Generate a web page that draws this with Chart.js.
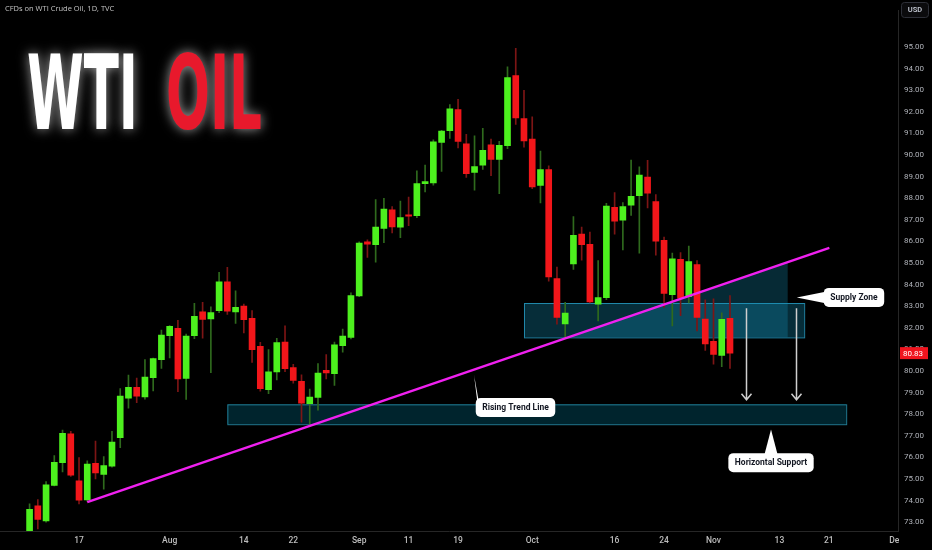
<!DOCTYPE html>
<html>
<head>
<meta charset="utf-8">
<title>WTI Oil</title>
<script src="https://cdn.jsdelivr.net/npm/chart.js@4.4.0/dist/chart.umd.min.js"></script>
<style>
  html, body { margin: 0; padding: 0; background: #000; }
  #wrap { width: 932px; height: 550px; }
</style>
</head>
<body>
<div id="wrap"><canvas id="chart" width="932" height="550"></canvas></div>
<script>
// trading days shown, first one sits 6 bars before Jul 17 (index 0)
const days = ["Jul 7","Jul 10","Jul 11","Jul 12","Jul 13","Jul 14","Jul 17","Jul 18","Jul 19","Jul 20","Jul 21","Jul 24","Jul 25","Jul 26","Jul 27","Jul 28","Jul 31",
  "Aug 1","Aug 2","Aug 3","Aug 4","Aug 7","Aug 8","Aug 9","Aug 10","Aug 11","Aug 14","Aug 15","Aug 16","Aug 17","Aug 18","Aug 21","Aug 22","Aug 23","Aug 24","Aug 25","Aug 28","Aug 29","Aug 30","Aug 31",
  "Sep 1","Sep 4","Sep 5","Sep 6","Sep 7","Sep 8","Sep 11","Sep 12","Sep 13","Sep 14","Sep 15","Sep 18","Sep 19","Sep 20","Sep 21","Sep 22","Sep 25","Sep 26","Sep 27","Sep 28","Sep 29",
  "Oct 2","Oct 3","Oct 4","Oct 5","Oct 6","Oct 9","Oct 10","Oct 11","Oct 12","Oct 13","Oct 16","Oct 17","Oct 18","Oct 19","Oct 20","Oct 23","Oct 24","Oct 25","Oct 26","Oct 27","Oct 30","Oct 31",
  "Nov 1","Nov 2","Nov 3"];
const firstDay = -6;

const opens = [72.2,73.76,73.06,74.71,75.76,77.09,74.92,74.03,75.73,75.21,75.6,76.92,78.75,79.25,78.8,79.7,80.53,
  81.64,81.98,79.66,81.64,82.74,82.41,82.8,84.13,82.74,83.01,82.44,81.15,79.14,79.96,81.34,80.16,79.52,78.49,78.78,80.03,79.88,81.18,81.56,
  83.48,85.98,85.85,86.6,87.46,86.66,87.23,87.19,88.68,88.71,90.59,91.13,92.1,90.52,89.2,89.53,90.47,89.8,90.43,93.68,91.69,
  90.74,88.59,89.33,84.28,82.18,84.96,86.34,85.87,83.1,83.4,87.58,86.99,87.68,88.12,88.98,87.85,86.05,83.54,85.17,83.44,84.93,82.41,
  81.38,80.73,82.44];
const highs = [73.85,74.05,74.88,76.09,77.27,77.21,76.0,75.85,76.76,76.04,77.21,79.19,79.81,79.67,80.53,80.6,81.9,
  82.1,82.35,81.71,83.13,83.18,82.97,84.57,84.8,83.72,83.1,82.8,81.33,80.99,81.52,82.09,80.31,79.82,79.17,80.35,80.76,81.34,81.94,83.62,
  85.98,86.07,87.94,88.0,87.61,87.87,88.06,89.27,89.54,90.71,91.15,92.34,92.58,90.96,90.89,91.24,90.74,90.63,94.08,94.94,93.0,
  91.77,90.18,89.5,84.81,83.18,87.15,86.67,86.43,85.11,87.76,88.26,87.8,89.77,89.45,89.75,88.17,86.2,85.46,85.49,85.79,85.11,83.3,
  83.34,82.7,83.49];
const lows = [71.9,72.69,73.0,74.68,75.33,75.12,73.85,73.97,75.01,74.53,75.55,76.45,78.28,78.54,78.7,79.08,80.12,
  80.61,79.05,78.69,81.5,81.52,79.93,82.7,82.62,82.21,81.77,80.4,79.07,78.95,79.59,79.97,79.44,77.63,77.53,78.19,79.64,79.34,80.88,81.49,
  83.44,85.26,85.04,85.94,86.4,86.17,86.73,87.1,88.29,88.6,89.24,90.77,90.33,88.97,88.38,89.33,89.05,88.21,90.3,91.42,90.37,
  88.44,87.78,84.16,82.17,81.56,84.71,85.13,83.15,82.32,83.3,86.34,85.61,87.2,85.46,87.55,85.37,82.95,82.09,82.57,83.15,81.86,80.95,
  80.32,80.2,80.12];
const closes = [73.6,73.13,74.73,75.77,77.12,75.18,74.02,75.69,75.29,75.62,76.71,78.84,79.25,78.84,79.72,80.58,81.67,
  82.07,79.64,81.62,82.53,82.39,82.71,84.13,82.77,82.95,82.38,80.99,79.19,79.96,81.32,80.11,79.57,78.51,78.8,79.91,79.91,81.21,81.62,83.49,
  85.92,85.88,86.66,87.5,86.67,87.11,87.17,88.68,88.77,90.61,91.11,92.14,90.63,89.14,89.47,90.22,89.8,90.45,93.59,91.72,90.66,
  88.53,89.33,84.36,82.48,82.68,86.28,85.85,83.2,83.4,87.64,86.94,87.61,88.09,89.07,88.24,86.01,83.59,85.19,83.38,85.07,82.48,81.26,
  80.77,82.39,80.83];

const tickDays = [0, 11, 20, 26, 34, 40, 46, 55, 65, 71, 77, 85, 91, 99.2];
const tickNames = ["17", "Aug", "14", "22", "Sep", "11", "19", "Oct", "16", "24", "Nov", "13", "21", "Dec"];
const priceTicks = [73, 74, 75, 76, 77, 78, 79, 80, 81, 82, 83, 84, 85, 86, 87, 88, 89, 90, 91, 92, 93, 94, 95];

// drawings (day index, price)
const trendDays = [1.0, 91.06];
const trendPrices = [73.93, 85.70];
const supplyZone = [54.0, 88.0, 83.15, 81.56];   // from, to, top, bottom
const supportZone = [18.0, 93.1, 78.46, 77.54];
const shadeEnd = 86.0;
const arrowDays = [81.0, 87.0];
const arrowPrices = [82.91, 78.67];
const calloutTexts = ["Supply Zone", "Rising Trend Line", "Horizontal Support"];
const calloutAt = [[94.05, 83.41], [52.97, 78.31], [83.98, 75.76]];
const calloutTips = [[87.1, 83.40], [47.94, 79.82], [83.98, 77.30]];
const lastPrice = 80.83;

const GREEN = "#4df01e", RED = "#f2161a", GREEN_WICK = "#2f6a1d", RED_WICK = "#7d1515";
const up = closes.map((c, i) => c >= opens[i]);
const xOf = i => i + firstDay;

function trendAt(d) {
  return trendPrices[0] + (d - trendDays[0]) * (trendPrices[1] - trendPrices[0]) / (trendDays[1] - trendDays[0]);
}

function rr(ctx, x, y, w, h, r) {
  ctx.beginPath();
  ctx.moveTo(x + r, y);
  ctx.arcTo(x + w, y, x + w, y + h, r);
  ctx.arcTo(x + w, y + h, x, y + h, r);
  ctx.arcTo(x, y + h, x, y, r);
  ctx.arcTo(x, y, x + w, y, r);
  ctx.closePath();
}

const drawings = {
  id: "drawings",
  beforeDatasetsDraw(chart) {
    const { ctx } = chart;
    const px = v => chart.scales.x.getPixelForValue(v);
    const py = v => chart.scales.y.getPixelForValue(v);
    ctx.save();
    // support
    let [a, b, t, btm] = supportZone;
    ctx.fillStyle = "rgba(0,150,190,0.24)";
    ctx.fillRect(px(a), py(t), px(b) - px(a), py(btm) - py(t));
    ctx.strokeStyle = "rgba(40,150,180,0.8)";
    ctx.lineWidth = 1;
    ctx.strokeRect(px(a) + 0.5, py(t) + 0.5, px(b) - px(a), py(btm) - py(t));
    // supply
    [a, b, t, btm] = supplyZone;
    ctx.fillStyle = "rgba(20,150,190,0.3)";
    ctx.fillRect(px(a), py(t), px(b) - px(a), py(btm) - py(t));
    ctx.strokeStyle = "rgba(40,160,200,0.8)";
    ctx.strokeRect(px(a) + 0.5, py(t) + 0.5, px(b) - px(a), py(btm) - py(t));
    // shaded wedge under the trend line
    const startDay = trendDays[0] + (btm - trendPrices[0]) / (trendPrices[1] - trendPrices[0]) * (trendDays[1] - trendDays[0]);
    ctx.fillStyle = "rgba(20,150,190,0.28)";
    ctx.beginPath();
    ctx.moveTo(px(startDay), py(btm));
    ctx.lineTo(px(shadeEnd), py(trendAt(shadeEnd)));
    ctx.lineTo(px(shadeEnd), py(btm));
    ctx.closePath();
    ctx.fill();
    ctx.restore();
  },
  afterDatasetsDraw(chart) {
    const { ctx } = chart;
    const px = v => chart.scales.x.getPixelForValue(v);
    const py = v => chart.scales.y.getPixelForValue(v);
    ctx.save();
    // arrows
    ctx.strokeStyle = "#cfcfcf";
    ctx.lineWidth = 1.5;
    arrowDays.forEach(d => {
      const x = Math.round(px(d)) + 0.5, y0 = py(arrowPrices[0]), y1 = py(arrowPrices[1]);
      ctx.beginPath();
      ctx.moveTo(x, y0); ctx.lineTo(x, y1);
      ctx.moveTo(x - 5, y1 - 6); ctx.lineTo(x, y1); ctx.lineTo(x + 5, y1 - 6);
      ctx.stroke();
    });
    // callouts
    ctx.font = "bold 8.5px Roboto, 'DejaVu Sans', sans-serif";
    ctx.textAlign = "center";
    ctx.textBaseline = "middle";
    calloutTexts.forEach((txt, i) => {
      const cx = px(calloutAt[i][0]), cy = py(calloutAt[i][1]);
      const tx = px(calloutTips[i][0]), ty = py(calloutTips[i][1]);
      const w = ctx.measureText(txt).width + 13, h = 19;
      const bx = cx - w / 2, by = cy - h / 2;
      ctx.fillStyle = "#ffffff";
      rr(ctx, bx, by, w, h, 5);
      ctx.fill();
      ctx.beginPath();
      ctx.moveTo(tx, ty);
      if (tx < bx) {
        ctx.lineTo(bx + 3, cy - 6); ctx.lineTo(bx + 3, cy + 6);
      } else if (tx < bx + 8) {
        ctx.lineTo(bx + 3, by + 3); ctx.lineTo(bx + 14, by + 3);
      } else {
        ctx.lineTo(tx - 7, by + 3); ctx.lineTo(tx + 7, by + 3);
      }
      ctx.closePath();
      ctx.fill();
      ctx.fillStyle = "#131722";
      ctx.fillText(txt, cx, cy + 0.5);
    });
    ctx.restore();
  },
  afterDraw(chart) {
    const { ctx } = chart;
    const py = v => chart.scales.y.getPixelForValue(v);
    ctx.save();
    // clip the cut-off date under the price axis
    ctx.fillStyle = "#000";
    ctx.fillRect(899, 532, 33, 18);
    // header
    ctx.font = "7.5px 'Open Sans', sans-serif";
    ctx.fillStyle = "#c4c4c4";
    ctx.textBaseline = "middle";
    ctx.textAlign = "left";
    ctx.fillText("CFDs on WTI Crude Oil, 1D, TVC", 5, 9);
    // big title
    ctx.font = "bold 104px 'DejaVu Sans Condensed', 'DejaVu Sans', sans-serif";
    ctx.textBaseline = "alphabetic";
    [["WTI", 27, 111, "#ffffff"], ["OIL", 166, 96, "#e8192c"]].forEach(([s, x, w, col]) => {
      const sx = w / ctx.measureText(s).width;
      ctx.save();
      ctx.translate(x, 128.5);
      ctx.scale(sx, 1);
      ctx.shadowColor = "rgba(230,230,230,0.7)";
      ctx.shadowBlur = 12;
      ctx.fillStyle = col;
      ctx.fillText(s, 0, 0);
      ctx.restore();
    });
    // USD badge
    ctx.strokeStyle = "#2e3038";
    ctx.fillStyle = "#0b0b0d";
    rr(ctx, 901.5, 2.5, 27, 15, 3);
    ctx.fill();
    ctx.stroke();
    ctx.font = "bold 7.5px Roboto, sans-serif";
    ctx.fillStyle = "#b8bcc6";
    ctx.textAlign = "center";
    ctx.textBaseline = "middle";
    ctx.fillText("USD", 915, 10.5);
    // last price tag
    const y = py(lastPrice);
    ctx.fillStyle = "#f0141e";
    ctx.fillRect(900, y - 6, 28, 12);
    ctx.font = "8px Roboto, sans-serif";
    ctx.fillStyle = "#ffffff";
    ctx.textAlign = "left";
    ctx.fillText(lastPrice.toFixed(2), 903, y + 0.5);
    ctx.restore();
  }
};

new Chart(document.getElementById("chart"), {
  type: "bar",
  data: {
    datasets: [
      {
        type: "line",
        data: trendDays.map((d, i) => ({ x: d, y: trendPrices[i] })),
        borderColor: "#f020f0",
        borderWidth: 2.5,
        pointRadius: 0,
        order: 0,
      },
      {
        data: days.map((_, i) => ({ x: xOf(i), y: [opens[i], closes[i]] })),
        backgroundColor: up.map(u => (u ? GREEN : RED)),
        barThickness: 6,
        minBarLength: 1,
        grouped: false,
        order: 1,
      },
      {
        data: days.map((_, i) => ({ x: xOf(i), y: [lows[i], highs[i]] })),
        backgroundColor: up.map(u => (u ? GREEN_WICK : RED_WICK)),
        barThickness: 1,
        grouped: false,
        order: 2,
      },
    ],
  },
  options: {
    responsive: false,
    animation: false,
    layout: { padding: 0 },
    plugins: { legend: { display: false }, tooltip: { enabled: false } },
    scales: {
      x: {
        type: "linear",
        offset: false,
        min: -9.59,
        max: 99.39,
        grid: { display: false, drawTicks: false },
        border: { display: true, color: "#262626" },
        afterBuildTicks: s => { s.ticks = tickDays.map(v => ({ value: v })); },
        afterFit: s => { s.height = 19; },
        ticks: {
          autoSkip: false,
          maxRotation: 0,
          padding: 5,
          color: "#bdbdbd",
          font: { family: "Roboto", size: 8.5, weight: "500" },
          callback: (v, i) => tickNames[i],
        },
      },
      y: {
        position: "right",
        min: 72.596,
        max: 96.678,
        grid: { display: false, drawTicks: false },
        border: { display: true, color: "#262626" },
        afterBuildTicks: s => { s.ticks = priceTicks.map(v => ({ value: v })); },
        afterFit: s => { s.width = 34; },
        ticks: {
          padding: 6,
          color: "#b0b3ba",
          font: { family: "Roboto", size: 8 },
          callback: v => Number(v).toFixed(2),
        },
      },
    },
  },
  plugins: [drawings],
});
</script>
</body>
</html>
